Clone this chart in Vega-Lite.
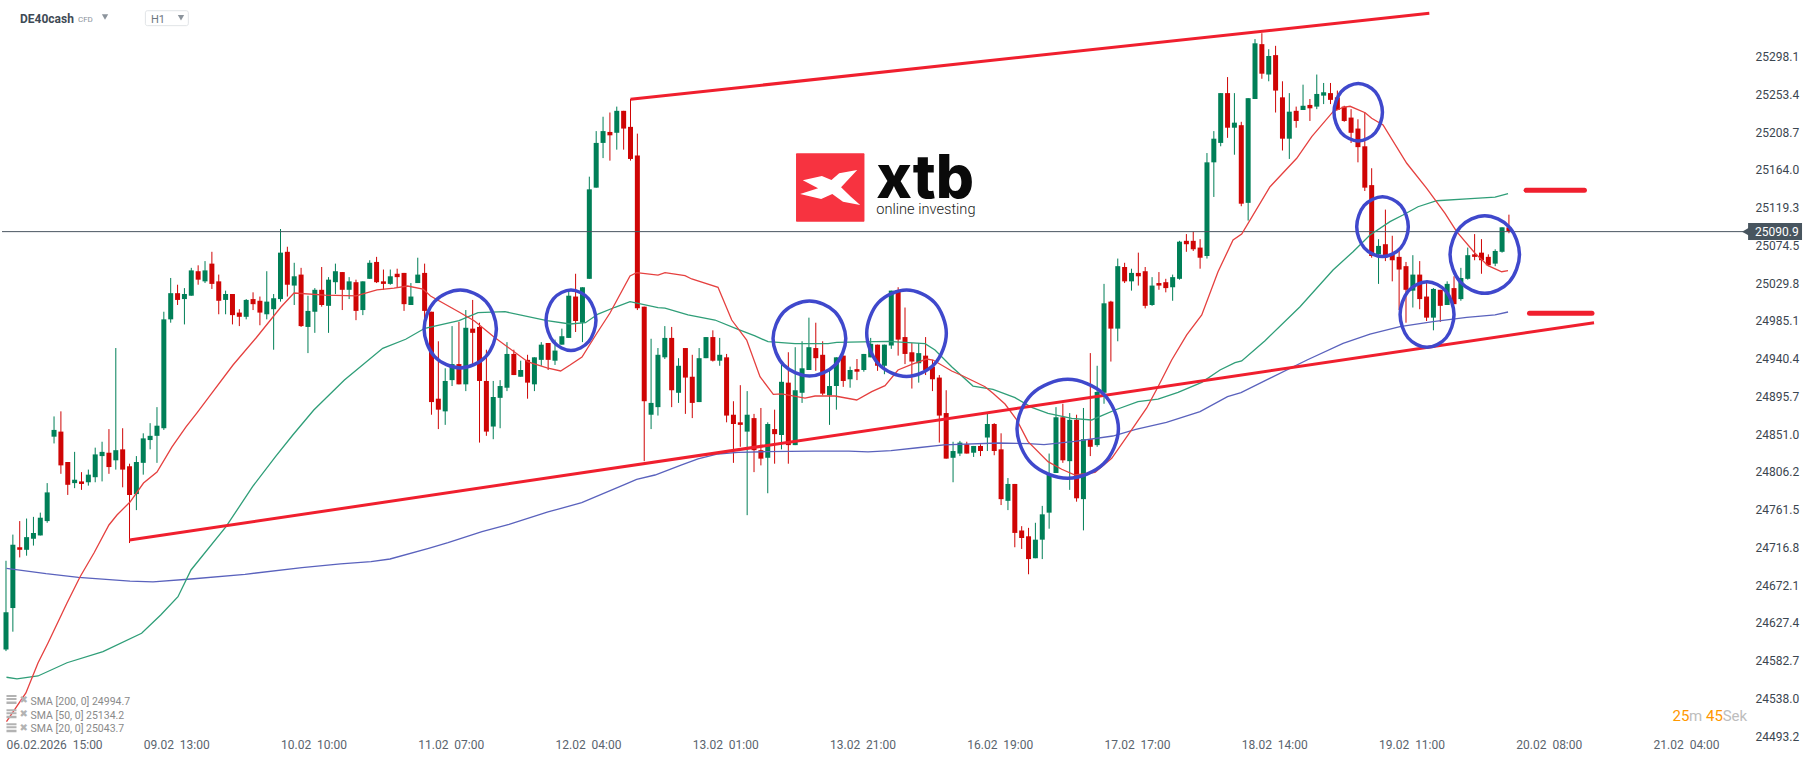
{"$schema":"https://vega.github.io/schema/vega-lite/v6.json","width":1815,"height":761,"padding":0,"autosize":{"type":"none"},"background":"#ffffff","config":{"view":{"stroke":null}},
"datasets":{
"candles":[
{"i":0,"o":24596,"h":24701,"l":24594,"c":24640},{"i":1,"o":24645,"h":24732,"l":24617,"c":24720},{"i":2,"o":24717,"h":24748,"l":24705,"c":24714},{"i":3,"o":24714,"h":24751,"l":24707,"c":24729},{"i":4,"o":24727,"h":24753,"l":24719,"c":24734},{"i":5,"o":24731,"h":24758,"l":24731,"c":24752},{"i":6,"o":24748,"h":24793,"l":24746,"c":24782},{"i":7,"o":24848,"h":24872,"l":24840,"c":24856},{"i":8,"o":24854,"h":24878,"l":24804,"c":24814},{"i":9,"o":24818,"h":24818,"l":24779,"c":24791},
{"i":10,"o":24793,"h":24830,"l":24787,"c":24797},{"i":11,"o":24795,"h":24806,"l":24785,"c":24792},{"i":12,"o":24794,"h":24809,"l":24790,"c":24803},{"i":13,"o":24800,"h":24835,"l":24794,"c":24827},{"i":14,"o":24825,"h":24842,"l":24795,"c":24830},{"i":15,"o":24829,"h":24857,"l":24804,"c":24812},{"i":16,"o":24820,"h":24953,"l":24809,"c":24832},{"i":17,"o":24833,"h":24858,"l":24788,"c":24809},{"i":18,"o":24813,"h":24816,"l":24722,"c":24779},{"i":19,"o":24780,"h":24825,"l":24761,"c":24818},
{"i":20,"o":24817,"h":24852,"l":24803,"c":24846},{"i":21,"o":24844,"h":24864,"l":24833,"c":24849},{"i":22,"o":24849,"h":24883,"l":24817,"c":24861},{"i":23,"o":24858,"h":24996,"l":24856,"c":24987},{"i":24,"o":24987,"h":25036,"l":24983,"c":25018},{"i":25,"o":25018,"h":25028,"l":25004,"c":25010},{"i":26,"o":25011,"h":25024,"l":24981,"c":25017},{"i":27,"o":25015,"h":25048,"l":25015,"c":25045},{"i":28,"o":25044,"h":25051,"l":25028,"c":25034},{"i":29,"o":25032,"h":25056,"l":25030,"c":25045},
{"i":30,"o":25053,"h":25067,"l":25023,"c":25029},{"i":31,"o":25032,"h":25040,"l":24993,"c":25009},{"i":32,"o":25010,"h":25021,"l":24993,"c":25017},{"i":33,"o":25017,"h":25017,"l":24981,"c":24992},{"i":34,"o":24995,"h":24999,"l":24979,"c":24990},{"i":35,"o":24990,"h":25011,"l":24987,"c":25010},{"i":36,"o":25011,"h":25019,"l":24998,"c":25005},{"i":37,"o":25009,"h":25014,"l":24980,"c":24995},{"i":38,"o":24993,"h":25044,"l":24987,"c":25008},{"i":39,"o":24999,"h":25017,"l":24951,"c":25012},
{"i":40,"o":25011,"h":25094,"l":25008,"c":25066},{"i":41,"o":25067,"h":25073,"l":25014,"c":25028},{"i":42,"o":25027,"h":25054,"l":25004,"c":25038},{"i":43,"o":25040,"h":25048,"l":24978,"c":24979},{"i":44,"o":24978,"h":25015,"l":24947,"c":24997},{"i":45,"o":24996,"h":25024,"l":24971,"c":25022},{"i":46,"o":25022,"h":25049,"l":25002,"c":25004},{"i":47,"o":25003,"h":25037,"l":24971,"c":25034},{"i":48,"o":25031,"h":25053,"l":25017,"c":25044},{"i":49,"o":25043,"h":25043,"l":24998,"c":25022},
{"i":50,"o":25022,"h":25037,"l":25011,"c":25032},{"i":51,"o":25031,"h":25034,"l":24986,"c":24997},{"i":52,"o":24998,"h":25032,"l":24992,"c":25032},{"i":53,"o":25035,"h":25057,"l":25035,"c":25054},{"i":54,"o":25055,"h":25061,"l":25030,"c":25031},{"i":55,"o":25032,"h":25046,"l":25022,"c":25029},{"i":56,"o":25029,"h":25046,"l":25028,"c":25038},{"i":57,"o":25041,"h":25047,"l":25025,"c":25037},{"i":58,"o":25042,"h":25042,"l":24997,"c":25005},{"i":59,"o":25004,"h":25030,"l":25004,"c":25014},
{"i":60,"o":25030,"h":25060,"l":25030,"c":25040},{"i":61,"o":25042,"h":25053,"l":24986,"c":24997},{"i":62,"o":24996,"h":24996,"l":24874,"c":24889},{"i":63,"o":24893,"h":24961,"l":24857,"c":24880},{"i":64,"o":24878,"h":24929,"l":24862,"c":24914},{"i":65,"o":24915,"h":24979,"l":24908,"c":24934},{"i":66,"o":24934,"h":24984,"l":24910,"c":24910},{"i":67,"o":24910,"h":24998,"l":24902,"c":24977},{"i":68,"o":24976,"h":25010,"l":24934,"c":24971},{"i":69,"o":24978,"h":24983,"l":24841,"c":24914},
{"i":70,"o":24914,"h":24951,"l":24849,"c":24854},{"i":71,"o":24860,"h":24914,"l":24845,"c":24895},{"i":72,"o":24894,"h":24915,"l":24858,"c":24908},{"i":73,"o":24906,"h":24960,"l":24902,"c":24946},{"i":74,"o":24946,"h":24951,"l":24921,"c":24921},{"i":75,"o":24919,"h":24938,"l":24919,"c":24927},{"i":76,"o":24939,"h":24945,"l":24893,"c":24912},{"i":77,"o":24910,"h":24942,"l":24902,"c":24942},{"i":78,"o":24939,"h":24960,"l":24932,"c":24957},{"i":79,"o":24959,"h":24959,"l":24927,"c":24939},
{"i":80,"o":24938,"h":24963,"l":24933,"c":24950},{"i":81,"o":24957,"h":24976,"l":24957,"c":24967},{"i":82,"o":24965,"h":25021,"l":24965,"c":25015},{"i":83,"o":25014,"h":25041,"l":24972,"c":24985},{"i":84,"o":24983,"h":25025,"l":24960,"c":25025},{"i":85,"o":25035,"h":25156,"l":25035,"c":25141},{"i":86,"o":25143,"h":25210,"l":25143,"c":25196},{"i":87,"o":25196,"h":25227,"l":25178,"c":25210},{"i":88,"o":25209,"h":25232,"l":25175,"c":25205},{"i":89,"o":25208,"h":25239,"l":25188,"c":25234},
{"i":90,"o":25234,"h":25234,"l":25188,"c":25213},{"i":91,"o":25215,"h":25248,"l":25175,"c":25177},{"i":92,"o":25181,"h":25207,"l":24998,"c":25000},{"i":93,"o":25002,"h":25002,"l":24819,"c":24890},{"i":94,"o":24874,"h":24964,"l":24857,"c":24888},{"i":95,"o":24883,"h":24953,"l":24873,"c":24945},{"i":96,"o":24942,"h":24979,"l":24940,"c":24965},{"i":97,"o":24965,"h":24978,"l":24883,"c":24903},{"i":98,"o":24900,"h":24941,"l":24888,"c":24932},{"i":99,"o":24953,"h":24953,"l":24875,"c":24918},
{"i":100,"o":24919,"h":24945,"l":24870,"c":24888},{"i":101,"o":24889,"h":24953,"l":24889,"c":24941},{"i":102,"o":24941,"h":24966,"l":24941,"c":24966},{"i":103,"o":24966,"h":24974,"l":24937,"c":24938},{"i":104,"o":24938,"h":24965,"l":24932,"c":24945},{"i":105,"o":24942,"h":24946,"l":24865,"c":24873},{"i":106,"o":24874,"h":24890,"l":24817,"c":24863},{"i":107,"o":24865,"h":24909,"l":24836,"c":24862},{"i":108,"o":24854,"h":24902,"l":24755,"c":24874},{"i":109,"o":24870,"h":24875,"l":24806,"c":24832},
{"i":110,"o":24832,"h":24882,"l":24814,"c":24822},{"i":111,"o":24823,"h":24865,"l":24781,"c":24863},{"i":112,"o":24857,"h":24880,"l":24816,"c":24851},{"i":113,"o":24850,"h":24936,"l":24833,"c":24913},{"i":114,"o":24912,"h":24948,"l":24816,"c":24838},{"i":115,"o":24838,"h":24954,"l":24838,"c":24903},{"i":116,"o":24900,"h":24961,"l":24888,"c":24929},{"i":117,"o":24927,"h":24989,"l":24927,"c":24954},{"i":118,"o":24953,"h":24983,"l":24926,"c":24941},{"i":119,"o":24945,"h":24961,"l":24897,"c":24899},
{"i":120,"o":24897,"h":24926,"l":24862,"c":24908},{"i":121,"o":24908,"h":24942,"l":24880,"c":24942},{"i":122,"o":24944,"h":24944,"l":24907,"c":24914},{"i":123,"o":24916,"h":24931,"l":24906,"c":24927},{"i":124,"o":24928,"h":24940,"l":24915,"c":24925},{"i":125,"o":24927,"h":24946,"l":24925,"c":24946},{"i":126,"o":24942,"h":24965,"l":24942,"c":24958},{"i":127,"o":24957,"h":24957,"l":24926,"c":24932},{"i":128,"o":24932,"h":24957,"l":24922,"c":24957},{"i":129,"o":24956,"h":25021,"l":24952,"c":25021},
{"i":130,"o":25021,"h":25025,"l":24944,"c":24963},{"i":131,"o":24966,"h":25001,"l":24934,"c":24946},{"i":132,"o":24948,"h":24959,"l":24905,"c":24937},{"i":133,"o":24935,"h":24959,"l":24912,"c":24947},{"i":134,"o":24944,"h":24966,"l":24921,"c":24927},{"i":135,"o":24931,"h":24939,"l":24902,"c":24916},{"i":136,"o":24918,"h":24921,"l":24841,"c":24873},{"i":137,"o":24876,"h":24903,"l":24822,"c":24822},{"i":138,"o":24823,"h":24842,"l":24794,"c":24831},{"i":139,"o":24828,"h":24843,"l":24825,"c":24841},
{"i":140,"o":24839,"h":24842,"l":24828,"c":24828},{"i":141,"o":24829,"h":24837,"l":24824,"c":24837},{"i":142,"o":24837,"h":24839,"l":24825,"c":24831},{"i":143,"o":24847,"h":24875,"l":24831,"c":24863},{"i":144,"o":24863,"h":24864,"l":24826,"c":24831},{"i":145,"o":24833,"h":24852,"l":24767,"c":24774},{"i":146,"o":24772,"h":24799,"l":24761,"c":24792},{"i":147,"o":24792,"h":24792,"l":24717,"c":24734},{"i":148,"o":24737,"h":24742,"l":24715,"c":24728},{"i":149,"o":24730,"h":24740,"l":24685,"c":24703},
{"i":150,"o":24704,"h":24746,"l":24704,"c":24726},{"i":151,"o":24726,"h":24766,"l":24703,"c":24756},{"i":152,"o":24758,"h":24828,"l":24739,"c":24803},{"i":153,"o":24805,"h":24883,"l":24805,"c":24871},{"i":154,"o":24871,"h":24887,"l":24817,"c":24820},{"i":155,"o":24819,"h":24876,"l":24785,"c":24868},{"i":156,"o":24868,"h":24874,"l":24771,"c":24775},{"i":157,"o":24774,"h":24882,"l":24737,"c":24845},{"i":158,"o":24845,"h":24947,"l":24825,"c":24836},{"i":159,"o":24838,"h":24932,"l":24836,"c":24901},
{"i":160,"o":24900,"h":25029,"l":24887,"c":25006},{"i":161,"o":25008,"h":25009,"l":24937,"c":24976},{"i":162,"o":24976,"h":25059,"l":24961,"c":25050},{"i":163,"o":25049,"h":25054,"l":25030,"c":25032},{"i":164,"o":25032,"h":25047,"l":25021,"c":25042},{"i":165,"o":25042,"h":25066,"l":25027,"c":25038},{"i":166,"o":25044,"h":25049,"l":25000,"c":25003},{"i":167,"o":25004,"h":25037,"l":25003,"c":25027},{"i":168,"o":25030,"h":25043,"l":25022,"c":25027},{"i":169,"o":25031,"h":25035,"l":25019,"c":25024},
{"i":170,"o":25025,"h":25040,"l":25009,"c":25037},{"i":171,"o":25035,"h":25080,"l":25034,"c":25079},{"i":172,"o":25080,"h":25088,"l":25067,"c":25076},{"i":173,"o":25080,"h":25091,"l":25068,"c":25070},{"i":174,"o":25072,"h":25082,"l":25047,"c":25060},{"i":175,"o":25062,"h":25184,"l":25059,"c":25173},{"i":176,"o":25173,"h":25210,"l":25132,"c":25201},{"i":177,"o":25196,"h":25255,"l":25192,"c":25255},{"i":178,"o":25255,"h":25274,"l":25202,"c":25214},{"i":179,"o":25214,"h":25255,"l":25182,"c":25220},
{"i":180,"o":25217,"h":25221,"l":25121,"c":25124},{"i":181,"o":25125,"h":25249,"l":25104,"c":25249},{"i":182,"o":25248,"h":25319,"l":25248,"c":25314},{"i":183,"o":25313,"h":25326,"l":25272,"c":25278},{"i":184,"o":25277,"h":25307,"l":25269,"c":25299},{"i":185,"o":25300,"h":25311,"l":25232,"c":25258},{"i":186,"o":25250,"h":25269,"l":25187,"c":25201},{"i":187,"o":25201,"h":25255,"l":25177,"c":25233},{"i":188,"o":25234,"h":25239,"l":25214,"c":25222},{"i":189,"o":25235,"h":25265,"l":25235,"c":25240},
{"i":190,"o":25241,"h":25248,"l":25222,"c":25237},{"i":191,"o":25239,"h":25277,"l":25236,"c":25254},{"i":192,"o":25252,"h":25267,"l":25242,"c":25256},{"i":193,"o":25255,"h":25267,"l":25242,"c":25247},{"i":194,"o":25250,"h":25258,"l":25235,"c":25235},{"i":195,"o":25239,"h":25240,"l":25221,"c":25222},{"i":196,"o":25226,"h":25236,"l":25196,"c":25208},{"i":197,"o":25213,"h":25224,"l":25173,"c":25191},{"i":198,"o":25192,"h":25232,"l":25139,"c":25143},{"i":199,"o":25146,"h":25166,"l":25060,"c":25062},
{"i":200,"o":25064,"h":25082,"l":25029,"c":25074},{"i":201,"o":25076,"h":25117,"l":25056,"c":25062},{"i":202,"o":25064,"h":25086,"l":25032,"c":25057},{"i":203,"o":25061,"h":25068,"l":24998,"c":25046},{"i":204,"o":25050,"h":25055,"l":24983,"c":25022},{"i":205,"o":25021,"h":25063,"l":25001,"c":25040},{"i":206,"o":25040,"h":25056,"l":24999,"c":25011},{"i":207,"o":25014,"h":25030,"l":24985,"c":24989},{"i":208,"o":24989,"h":25024,"l":24974,"c":25023},{"i":209,"o":25022,"h":25022,"l":24984,"c":25003},
{"i":210,"o":25004,"h":25032,"l":25004,"c":25029},{"i":211,"o":25024,"h":25038,"l":25005,"c":25005},{"i":212,"o":25011,"h":25048,"l":25009,"c":25036},{"i":213,"o":25035,"h":25072,"l":25034,"c":25063},{"i":214,"o":25064,"h":25088,"l":25057,"c":25061},{"i":215,"o":25066,"h":25082,"l":25041,"c":25057},{"i":216,"o":25061,"h":25064,"l":25050,"c":25051},{"i":217,"o":25053,"h":25070,"l":25050,"c":25068},{"i":218,"o":25067,"h":25096,"l":25066,"c":25096},{"i":219,"o":25096,"h":25111,"l":25089,"c":25091}],
"sma20":[[0.07,24510.4],[2.9,24544.4],[4.66,24579.9],[6.12,24603.6],[8.89,24651],[10.78,24681.8],[12.82,24710.2],[15,24743.4],[16.17,24755.2],[18.07,24770.6],[20.04,24793.1],[22,24806.2],[24.19,24835.8],[26.23,24859.5],[27.83,24876.1],[30.02,24899.8],[33.08,24932.9],[36.43,24964.9],[40.07,25001.6],[41.97,25018.2],[46.48,25015.8],[51,25014.7],[54.06,25021.8],[56.54,25024.1],[58.52,25026.5],[60.76,25022.9],[61.86,25014.7],[66.01,24995.7],[68.27,24985],[71.11,24966.1],[76.07,24936.5],[78.83,24929.4],[80.82,24925.8],[82.19,24932.9],[83.93,24942.4],[86.12,24970.8],[88.01,24994.5],[90.93,25038.3],[91.9,25042.3],[95.01,25039.5],[96.03,25042.3],[98.94,25038.7],[99.92,25034.8],[103.75,25025],[105.75,24986.2],[107.93,24962.5],[109.87,24919.1],[111.81,24898.2],[113.03,24898.6],[116.43,24893.8],[117.89,24896.2],[120.8,24896.2],[123.96,24891.5],[126.15,24901.3],[128.09,24908.4],[129.98,24927],[131.98,24933.7],[134.16,24940],[135.08,24938.8],[137.8,24925.8],[139.45,24919.9],[142.66,24907.2],[143.82,24899.4],[145.57,24886.7],[147.28,24867.8],[148.93,24842.1],[151.84,24818.4],[153.83,24809.4],[155.77,24802.6],[158.69,24805.8],[161.12,24822.4],[164.22,24858.3],[166.22,24882],[167.87,24907.2],[169.86,24938.8],[172.05,24968.5],[174.24,24992.2],[176.61,25043.4],[178.8,25081],[180.06,25088.1],[184.19,25144.1],[188.08,25177.8],[190.27,25203.4],[193.37,25233],[194.83,25238.2],[195.85,25239.4],[198.05,25231.8],[199,25225.2],[200.66,25217.2],[204.11,25171.9],[207.02,25142.2],[209.69,25112.6],[211.39,25090.8],[214.06,25065.3],[215.96,25050.6],[217.95,25043.4],[218.87,25044.6]],
"sma50":[[0.07,24563],[1.6,24561],[4.66,24564.5],[8.89,24580.2],[14.13,24593.3],[19.76,24615.1],[22.54,24636.8],[25.06,24658.4],[26.96,24690.1],[32.06,24741.4],[35.93,24788.8],[39.27,24824.3],[41.79,24850],[44.85,24879.6],[49.31,24915.2],[54.89,24952.7],[58.24,24963.4],[61.03,24976.4],[66.01,24985.4],[68.78,24994.9],[72.71,24996.1],[78.83,24985.4],[82.19,24981.5],[84.44,24983],[86.27,24993.3],[88.74,25001.3],[90.93,25007.9],[95.01,25000.8],[96.03,25000.4],[99.38,24992.2],[103.31,24986.2],[106.67,24975.2],[109.14,24967.3],[111.04,24960.5],[114.97,24958.2],[119.78,24958.2],[121.05,24959.8],[128.52,24961],[133.92,24958.2],[135.37,24950.7],[137.8,24930.9],[140.91,24908],[143.82,24904.1],[147.03,24894.2],[149.46,24882.8],[151.84,24875.7],[155.29,24869.8],[158.2,24867.8],[161.6,24879.6],[164.95,24889.4],[167.87,24892.6],[170.79,24900.6],[174.24,24912.4],[176.9,24927],[179.09,24935.7],[180.06,24937.7],[183.46,24961.7],[188.56,25002],[193.37,25045.5],[196.29,25067.1],[198.76,25086.9],[201.67,25102.7],[203.56,25110.6],[205.75,25120.4],[208.48,25127.5],[212.85,25129.6],[216.98,25131.9],[218.87,25135.8]],
"sma200":[[0.07,24692.1],[5.83,24685.7],[10.56,24681.4],[18.07,24677],[21.42,24675.9],[26.96,24679.4],[34.83,24685],[43.13,24692.8],[48.76,24697.2],[53.19,24699.9],[55.96,24703.1],[61.58,24715.8],[64.41,24722.4],[69.36,24735.4],[73.3,24744.2],[78.98,24758.8],[83.89,24769.8],[90.2,24791.6],[91.9,24797.5],[94.57,24802.6],[98.46,24814.5],[100.84,24821.6],[103.75,24827.5],[106.67,24829.5],[110.6,24830.2],[117.74,24831],[122.81,24831],[125.61,24829.9],[128.96,24831.4],[132.84,24834.9],[136.68,24838.2],[144.55,24840.5],[149.01,24839.7],[151.26,24838.5],[155.72,24842.5],[161.28,24848.8],[164.63,24856.7],[169.09,24865],[173.99,24877.6],[178,24895.4],[179.96,24900.1],[183.7,24915.2],[189.58,24938.8],[194.83,24958.6],[198.76,24969.6],[203.13,24978.3],[207.94,24984.2],[212.85,24989.4],[216.98,24992.2],[218.87,24995.7]],
"trend":[{"k":"low","i":18,"p":24725.6},{"k":"low","i":231.4,"p":24983},{"k":"up","i":91,"p":25247.7},{"k":"up","i":207.4,"p":25349.5}],
"levels":[{"k":"a","i":221.5,"p":25139.9},{"k":"a","i":230,"p":25139.9},{"k":"b","i":222,"p":24994.2},{"k":"b","i":231.1,"p":24994.2}],
"rings":[
{"k":1,"o":1,"i":71.46,"p":24975.6},{"k":1,"o":2,"i":69.92,"p":25008.3},{"k":1,"o":3,"i":66.19,"p":25021.8},{"k":1,"o":4,"i":62.46,"p":25008.3},{"k":1,"o":5,"i":60.92,"p":24975.6},{"k":1,"o":6,"i":62.46,"p":24942.9},{"k":1,"o":7,"i":66.19,"p":24929.4},{"k":1,"o":8,"i":69.92,"p":24942.9},
{"k":2,"o":1,"i":85.97,"p":24985.9},{"k":2,"o":2,"i":84.9,"p":25011.3},{"k":2,"o":3,"i":82.33,"p":25021.8},{"k":2,"o":4,"i":79.76,"p":25011.3},{"k":2,"o":5,"i":78.69,"p":24985.9},{"k":2,"o":6,"i":79.76,"p":24960.5},{"k":2,"o":7,"i":82.33,"p":24950},{"k":2,"o":8,"i":84.9,"p":24960.5},
{"k":3,"o":1,"i":122.37,"p":24964.3},{"k":3,"o":2,"i":120.82,"p":24995.7},{"k":3,"o":3,"i":117.07,"p":25008.7},{"k":3,"o":4,"i":113.32,"p":24995.7},{"k":3,"o":5,"i":111.77,"p":24964.3},{"k":3,"o":6,"i":113.32,"p":24932.9},{"k":3,"o":7,"i":117.07,"p":24919.9},{"k":3,"o":8,"i":120.82,"p":24932.9},
{"k":4,"o":1,"i":137.02,"p":24970.5},{"k":4,"o":2,"i":135.32,"p":25006.8},{"k":4,"o":3,"i":131.22,"p":25021.8},{"k":4,"o":4,"i":127.12,"p":25006.8},{"k":4,"o":5,"i":125.42,"p":24970.5},{"k":4,"o":6,"i":127.12,"p":24934.2},{"k":4,"o":7,"i":131.22,"p":24919.2},{"k":4,"o":8,"i":135.32,"p":24934.2},
{"k":5,"o":1,"i":162.1,"p":24857.3},{"k":5,"o":2,"i":159.93,"p":24898.7},{"k":5,"o":3,"i":154.71,"p":24915.9},{"k":5,"o":4,"i":149.49,"p":24898.7},{"k":5,"o":5,"i":147.32,"p":24857.3},{"k":5,"o":6,"i":149.49,"p":24815.9},{"k":5,"o":7,"i":154.71,"p":24798.7},{"k":5,"o":8,"i":159.93,"p":24815.9},
{"k":6,"o":1,"i":200.57,"p":25232.4},{"k":6,"o":2,"i":199.54,"p":25256.5},{"k":6,"o":3,"i":197.04,"p":25266.5},{"k":6,"o":4,"i":194.54,"p":25256.5},{"k":6,"o":5,"i":193.51,"p":25232.4},{"k":6,"o":6,"i":194.54,"p":25208.3},{"k":6,"o":7,"i":197.04,"p":25198.3},{"k":6,"o":8,"i":199.54,"p":25208.3},
{"k":7,"o":1,"i":204.34,"p":25096.8},{"k":7,"o":2,"i":203.24,"p":25121.9},{"k":7,"o":3,"i":200.58,"p":25132.3},{"k":7,"o":4,"i":197.92,"p":25121.9},{"k":7,"o":5,"i":196.82,"p":25096.8},{"k":7,"o":6,"i":197.92,"p":25071.7},{"k":7,"o":7,"i":200.58,"p":25061.3},{"k":7,"o":8,"i":203.24,"p":25071.7},
{"k":8,"o":1,"i":211,"p":24992.7},{"k":8,"o":2,"i":209.85,"p":25020.2},{"k":8,"o":3,"i":207.07,"p":25031.6},{"k":8,"o":4,"i":204.29,"p":25020.2},{"k":8,"o":5,"i":203.14,"p":24992.7},{"k":8,"o":6,"i":204.29,"p":24965.2},{"k":8,"o":7,"i":207.07,"p":24953.8},{"k":8,"o":8,"i":209.85,"p":24965.2},
{"k":9,"o":1,"i":220.54,"p":25063.8},{"k":9,"o":2,"i":219.06,"p":25096.3},{"k":9,"o":3,"i":215.48,"p":25109.8},{"k":9,"o":4,"i":211.9,"p":25096.3},{"k":9,"o":5,"i":210.42,"p":25063.8},{"k":9,"o":6,"i":211.9,"p":25031.3},{"k":9,"o":7,"i":215.48,"p":25017.8},{"k":9,"o":8,"i":219.06,"p":25031.3}],
"stripes":[{"i":0.07,"i2":1.53,"p":24542,"p2":24539.6},{"i":0.07,"i2":1.53,"p":24538.4,"p2":24536},{"i":0.07,"i2":1.53,"p":24534.3,"p2":24531.3},{"i":0.07,"i2":1.53,"p":24525.1,"p2":24522.7},{"i":0.07,"i2":1.53,"p":24521.5,"p2":24519.1},{"i":0.07,"i2":1.53,"p":24517.4,"p2":24514.4},{"i":0.07,"i2":1.53,"p":24508.5,"p2":24506.1},{"i":0.07,"i2":1.53,"p":24504.9,"p2":24502.5},{"i":0.07,"i2":1.53,"p":24500.8,"p2":24497.8}]
},
"encoding":{
"x":{"field":"i","type":"quantitative","scale":{"domain":[-0.874,263.6],"nice":false,"zero":false,"padding":0},"axis":{"title":null,"orient":"bottom","offset":-17,"grid":false,"ticks":false,"domain":false,"values":[0,20,40,60,80,100,120,140,160,180,200,220,240],"labelExpr":"['06.02.2026\u00a0\u00a015:00','09.02\u00a0\u00a013:00','10.02\u00a0\u00a010:00','11.02\u00a0\u00a007:00','12.02\u00a0\u00a004:00','13.02\u00a0\u00a001:00','13.02\u00a0\u00a021:00','16.02\u00a0\u00a019:00','17.02\u00a0\u00a017:00','18.02\u00a0\u00a014:00','19.02\u00a0\u00a011:00','20.02\u00a0\u00a008:00','21.02\u00a0\u00a004:00'][datum.value/20]","labelAlign":"left","labelBaseline":"middle","labelPadding":0,"labelFlush":false,"labelOverlap":false,"labelBound":false,"labelFont":"Roboto","labelFontSize":12,"labelColor":"#5a646e"}},
"y":{"field":"p","type":"quantitative","scale":{"domain":[24463.8,25365.3],"nice":false,"zero":false},"axis":{"title":null,"orient":"right","offset":-60,"grid":false,"ticks":false,"domain":false,"values":[25298.1,25253.4,25208.7,25164.0,25119.3,25074.5,25029.8,24985.1,24940.4,24895.7,24851.0,24806.2,24761.5,24716.8,24672.1,24627.4,24582.7,24538.0,24493.2],"format":".1f","labelAlign":"left","labelBaseline":"middle","labelPadding":0,"labelOverlap":false,"labelBound":false,"labelFlush":false,"labelFont":"Roboto","labelFontSize":12,"labelColor":"#3b4650"}}
},
"layer":[
{"data":{"name":"candles"},"mark":{"type":"rule","strokeWidth":1},"encoding":{"y":{"field":"h","type":"quantitative","title":null},"y2":{"field":"l"},"color":{"condition":{"test":"datum.c>=datum.o","value":"#007f57"},"value":"#cf0505"}}},
{"data":{"name":"candles"},"mark":{"type":"bar","size":5},"encoding":{"y":{"field":"o","type":"quantitative","title":null},"y2":{"field":"c"},"color":{"condition":{"test":"datum.c>=datum.o","value":"#007f57"},"value":"#cf0505"}}},
{"data":{"values":[{"i":-0.58,"i2":253.85,"p":25090.9}]},"mark":{"type":"rule","strokeWidth":1,"color":"#4a5560"},"encoding":{"x2":{"field":"i2"}}},
{"data":{"name":"sma200"},"transform":[{"calculate":"datum[0]","as":"i"},{"calculate":"datum[1]","as":"p"}],"mark":{"type":"line","strokeWidth":1.3,"color":"#5a62bd"}},
{"data":{"name":"sma50"},"transform":[{"calculate":"datum[0]","as":"i"},{"calculate":"datum[1]","as":"p"}],"mark":{"type":"line","strokeWidth":1.3,"color":"#2f9e78"}},
{"data":{"name":"sma20"},"transform":[{"calculate":"datum[0]","as":"i"},{"calculate":"datum[1]","as":"p"}],"mark":{"type":"line","strokeWidth":1.3,"color":"#e5403f"}},
{"data":{"name":"trend"},"mark":{"type":"line","strokeWidth":3,"color":"#f01f2e"},"encoding":{"detail":{"field":"k"}}},
{"data":{"name":"levels"},"mark":{"type":"line","strokeWidth":5,"strokeCap":"round","color":"#f01f2e"},"encoding":{"detail":{"field":"k"}}},
{"data":{"name":"rings"},"mark":{"type":"line","strokeWidth":3.5,"color":"#3f48cc","interpolate":"cardinal-closed"},"encoding":{"detail":{"field":"k"},"order":{"field":"o"}}},
{"data":{"values":[{"i":115.12,"i2":125.09,"p":25183.7,"p2":25102.7}]},"mark":{"type":"rect","color":"#f73340","cornerRadius":1},"encoding":{"x2":{"field":"i2"},"y2":{"field":"p2"}}},
{"data":{"values":[{"i":120.01,"p":25143.4}]},"mark":{"type":"point","filled":true,"opacity":1,"color":"#ffffff","size":3600,"shape":"M-.893,-.233L-.257,-.377L.063,-.243L.32,-.467L.92,-.577L.383,0L.7,.31L1.02,.59L.447,.477L.09,.223L-.28,.39L-.983,.223L-.383,.033Z"}},
{"data":{"values":[{"i":126.82,"p":25130.4,"t":"xtb"}]},"mark":{"type":"text","align":"left","baseline":"alphabetic","font":"Inter","fontWeight":800,"fontSize":60,"color":"#0a0a0a"},"encoding":{"text":{"field":"t"}}},
{"data":{"values":[{"i":126.82,"p":25111.4,"t":"online investing"}]},"mark":{"type":"text","align":"left","baseline":"alphabetic","font":"Roboto","fontWeight":300,"fontSize":14.6,"color":"#222222"},"encoding":{"text":{"field":"t"}}},
{"data":{"values":[{"i":20.31,"i2":26.57,"p":25352.6,"p2":25334.9}]},"mark":{"type":"rect","fill":"#ffffff","stroke":"#e1e4e7","strokeWidth":1,"cornerRadius":2},"encoding":{"x2":{"field":"i2"},"y2":{"field":"p2"}}},
{"data":{"values":[{"i":2.04,"p":25342.8,"t":"DE40cash"}]},"mark":{"type":"text","align":"left","baseline":"middle","font":"Roboto","fontWeight":700,"fontSize":12,"color":"#3e4a55"},"encoding":{"text":{"field":"t"}}},
{"data":{"values":[{"i":10.49,"p":25341.6,"t":"CFD"}]},"mark":{"type":"text","align":"left","baseline":"middle","font":"Roboto","fontSize":8,"color":"#8c949c"},"encoding":{"text":{"field":"t"}}},
{"data":{"values":[{"i":21.13,"p":25342,"t":"H1"}]},"mark":{"type":"text","align":"left","baseline":"middle","font":"Roboto","fontSize":11,"color":"#6e7780"},"encoding":{"text":{"field":"t"}}},
{"data":{"values":[{"i":14.43,"p":25345.2},{"i":25.5,"p":25344.3}]},"mark":{"type":"point","shape":"triangle-down","filled":true,"opacity":1,"size":40,"color":"#8c949c"}},
{"data":{"name":"stripes"},"mark":{"type":"rect","color":"#b3b3b3"},"encoding":{"x2":{"field":"i2"},"y2":{"field":"p2"}}},
{"data":{"values":[{"i":2.58,"p":24536,"t":"\u2716"},{"i":2.58,"p":24519.5,"t":"\u2716"},{"i":2.58,"p":24502.9,"t":"\u2716"}]},"mark":{"type":"text","align":"center","baseline":"middle","font":"DejaVu Sans","fontSize":10,"color":"#b3b3b3"},"encoding":{"text":{"field":"t"}}},
{"data":{"values":[{"i":3.58,"p":24534,"t":"SMA [200, 0] 24994.7"},{"i":3.58,"p":24517.5,"t":"SMA [50, 0] 25134.2"},{"i":3.58,"p":24501.4,"t":"SMA [20, 0] 25043.7"}]},"mark":{"type":"text","align":"left","baseline":"middle","font":"Roboto","fontSize":10.5,"color":"#8a8a8a"},"encoding":{"text":{"field":"t"}}},
{"data":{"values":[{"i":242.85,"p":24517.1,"t":"25"},{"i":247.72,"p":24517.1,"t":"45"}]},"mark":{"type":"text","align":"left","baseline":"middle","font":"Roboto","fontSize":15,"color":"#ff9800"},"encoding":{"text":{"field":"t"}}},
{"data":{"values":[{"i":245.25,"p":24517.1,"t":"m"},{"i":250.15,"p":24517.1,"t":"Sek"}]},"mark":{"type":"text","align":"left","baseline":"middle","font":"Roboto","fontSize":15,"color":"#bdbdbd"},"encoding":{"text":{"field":"t"}}},
{"data":{"values":[{"i":253.85,"i2":261.71,"p":25101.1,"p2":25081}]},"mark":{"type":"rect","color":"#48555f"},"encoding":{"x2":{"field":"i2"},"y2":{"field":"p2"}}},
{"data":{"values":[{"i":253.5,"p":25090.9}]},"mark":{"type":"point","shape":"triangle-left","filled":true,"opacity":1,"size":70,"color":"#48555f"}},
{"data":{"values":[{"i":254.87,"p":25090.9,"t":"25090.9"}]},"mark":{"type":"text","align":"left","baseline":"middle","font":"Roboto","fontSize":12,"color":"#ffffff"},"encoding":{"text":{"field":"t"}}}
]}
